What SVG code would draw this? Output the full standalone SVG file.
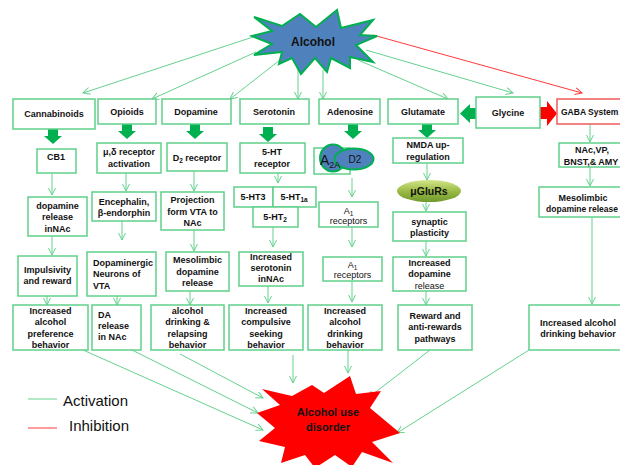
<svg xmlns="http://www.w3.org/2000/svg" width="620" height="465" viewBox="0 0 620 465">
<style>
text{font-family:"Liberation Sans",Arial,sans-serif;font-size:9px;font-weight:bold;fill:#111;text-anchor:middle}
.l{text-anchor:start}
.n{font-weight:normal}
.box{fill:#fff;stroke:#5fd08a;stroke-width:1.5}
.rbox{fill:#fff;stroke:#f05a5a;stroke-width:1.5}
.c{fill:none;stroke:#66d18e;stroke-width:1;marker-end:url(#ag)}
.r{fill:none;stroke:#ff3b3b;stroke-width:1;marker-end:url(#ar)}
.ga{fill:#00b050}
</style>
<defs>
<marker id="ag" markerUnits="userSpaceOnUse" markerWidth="9" markerHeight="9" refX="7" refY="4" orient="auto"><path d="M0,0.5 L7,4 L0,7.5" fill="none" stroke="#66d18e" stroke-width="1"/></marker>
<marker id="ar" markerUnits="userSpaceOnUse" markerWidth="9" markerHeight="9" refX="7" refY="4" orient="auto"><path d="M0,0.5 L7,4 L0,7.5" fill="none" stroke="#ff3b3b" stroke-width="1"/></marker>
<path id="da" d="M-5,0 H5 V7 H9 L0,15 L-9,7 H-5 Z"/>
<linearGradient id="gg" x1="0" y1="0" x2="0" y2="1"><stop offset="0" stop-color="#d3e58a"/><stop offset="0.5" stop-color="#9bbb45"/><stop offset="1" stop-color="#6f9a2c"/></linearGradient>
</defs>

<g id="connectors">
<path class="c" d="M253,37 L83,93"/>
<path class="c" d="M256,52 L152,99"/>
<path class="c" d="M280,60 L230,99"/>
<path class="c" d="M298,65 L298,99"/>
<path class="c" d="M323,70 L323,99"/>
<path class="c" d="M358,60 L448,99"/>
<path class="c" d="M366,50 L513,93"/>
<path class="r" d="M373,35 L582,93"/>
<path class="c" d="M52,174 L52,195"/>
<path class="c" d="M126,173 L126,191"/>
<path class="c" d="M194,171 L194,191"/>
<path class="c" d="M278,173 L278,183"/>
<path class="c" d="M352,178 L352,197"/>
<path class="c" d="M427,163 L427,180"/>
<path class="c" d="M590,124 L590,142"/>
<path class="c" d="M426,202 L426,211"/>
<path class="c" d="M590,167 L590,186"/>
<path class="c" d="M52,236 L52,255"/>
<path class="c" d="M122,221 L122,240"/>
<path class="c" d="M194,230 L194,251"/>
<path class="c" d="M273,227 L273,247"/>
<path class="c" d="M352,227 L352,247"/>
<path class="c" d="M426,241 L426,256"/>
<path class="c" d="M592,217 L592,304"/>
<path class="c" d="M47,296 L47,305"/>
<path class="c" d="M117,296 L117,305"/>
<path class="c" d="M190,291 L190,305"/>
<path class="c" d="M268,286 L268,303"/>
<path class="c" d="M352,281 L352,302"/>
<path class="c" d="M426,291 L426,305"/>
<path class="c" d="M83,350 L263,430"/>
<path class="c" d="M132,350 L258,413"/>
<path class="c" d="M180,354 L263,398"/>
<path class="c" d="M293,355 L293,383"/>
<path class="c" d="M348,350 L348,373"/>
<path class="c" d="M430,350 L368,398"/>
<path class="c" d="M529,350 L397,433"/>
<use href="#da" class="ga" x="53" y="129"/>
<use href="#da" class="ga" x="127" y="124"/>
<use href="#da" class="ga" x="195" y="124"/>
<use href="#da" class="ga" x="268" y="127"/>
<use href="#da" class="ga" x="353" y="124"/>
<use href="#da" class="ga" x="427" y="123"/>
<path class="ga" d="M477,108 H470 V104 L460,113.5 L470,123 V119 H477 Z"/>
<path d="M539,107 H547 V101 L557,113.5 L547,126 V119 H539 Z" fill="#ff0000"/>
</g>

<g id="alcohol">
<polygon points="254,17 282,26 300,14 316,27 337,10 341,28 373,20 360,35 377,36 356,45 373,62 350,57 350,68 331,58 327,72 315,58 301,74 292,58 279,64 282,52 254,55 272,44 252,36 272,31" fill="#4f81bd" stroke="#00b050" stroke-width="2" stroke-linejoin="miter"/>
<text x="313" y="46" style="font-size:12px">Alcohol</text>
</g>

<g id="aud">
<polygon points="262,389 292,396 312,385 324,393 350,376 356,394 381,391 370,408 400,433 372,442 393,463 362,452 352,467 335,455 315,468 305,455 281,463 285,447 259,441 275,428 257,413 280,405" fill="#ff0000"/>
<text x="328" y="416" style="font-size:11px">Alcohol use</text>
<text x="328" y="431" style="font-size:11px">disorder</text>
</g>

<g id="legend">
<line x1="28" y1="399" x2="57" y2="399" stroke="#66d18e" stroke-width="1"/>
<text class="l n" x="63" y="406" style="font-size:15px">Activation</text>
<line x1="28" y1="428" x2="57" y2="428" stroke="#ff3b3b" stroke-width="1"/>
<text class="l n" x="69" y="431" style="font-size:15px">Inhibition</text>
</g>

<g id="cannabinoids"><rect class="box" x="13" y="99" width="82" height="30"/><text x="54" y="117">Cannabinoids</text></g>
<g id="opioids"><rect class="box" x="98" y="99" width="58" height="25"/><text x="127" y="115">Opioids</text></g>
<g id="dopamine"><rect class="box" x="162" y="99" width="69" height="25"/><text x="196" y="115">Dopamine</text></g>
<g id="serotonin"><rect class="box" x="240" y="99" width="69" height="25"/><text x="274" y="115">Serotonin</text></g>
<g id="adenosine"><rect class="box" x="319" y="99" width="61" height="25"/><text x="350" y="115">Adenosine</text></g>
<g id="glutamate"><rect class="box" x="388" y="99" width="70" height="25"/><text x="423" y="115">Glutamate</text></g>
<g id="glycine"><rect class="box" x="476" y="97" width="64" height="31"/><text x="508" y="116">Glycine</text></g>
<g id="gaba"><rect class="rbox" x="557" y="99" width="68" height="25"/><text class="l" x="561" y="115" style="font-size:8.5px">GABA System</text></g>

<g id="cb1"><rect class="box" x="37" y="149" width="39" height="24"/><text x="56" y="160">CB1</text></g>
<g id="mu-delta"><rect class="box" x="97" y="143" width="64" height="30"/><text x="129" y="155">μ,δ receptor</text><text x="129" y="167">activation</text></g>
<g id="d2r"><rect class="box" x="167" y="143" width="60" height="28"/><text x="197" y="161">D<tspan dy="2" style="font-size:6.5px">2</tspan><tspan dy="-2"> receptor</tspan></text></g>
<g id="ht-receptor"><rect class="box" x="240" y="143" width="65" height="30"/><text x="272" y="155">5-HT</text><text x="272" y="167">receptor</text></g>
<g id="a2a-d2">
<rect class="box" x="314" y="148" width="36" height="26"/>
<ellipse cx="333" cy="158" rx="13" ry="13.5" fill="#4f81bd" stroke="#00b050" stroke-width="2"/>
<ellipse cx="354" cy="159" rx="19.5" ry="10.5" fill="#4f81bd" stroke="#00b050" stroke-width="2"/>
<text class="l n" x="320" y="165" style="font-size:14px">A<tspan dy="3" style="font-size:9px">2A</tspan></text>
<text class="n" x="355" y="163" style="font-size:10px">D2</text>
</g>
<g id="nmda"><rect class="box" x="393" y="138" width="70" height="25"/><text x="428" y="148">NMDA up-</text><text x="428" y="160">regulation</text></g>
<g id="nac-vp"><rect class="box" x="559" y="143" width="66" height="24"/><text x="592" y="153">NAc,VP,</text><text x="591" y="165">BNST,&amp; AMY</text></g>

<g id="da-release"><rect class="box" x="28" y="197" width="59" height="39"/><text x="57.5" y="209">dopamine</text><text x="57.5" y="220">release</text><text x="57.5" y="232">inNAc</text></g>
<g id="encephalin"><rect class="box" x="92" y="192" width="64" height="29"/><text x="124" y="205">Encephalin,</text><text x="124" y="216">β-endorphin</text></g>
<g id="projection"><rect class="box" x="161" y="192" width="63" height="38"/><text x="192.5" y="203">Projection</text><text x="192.5" y="215">form VTA to</text><text x="192.5" y="226">NAc</text></g>
<g id="ht3"><rect class="box" x="234" y="187" width="39" height="20"/><text x="253" y="200">5-HT3</text></g>
<g id="ht1a"><rect class="box" x="273" y="187" width="43" height="20"/><text x="294" y="200">5-HT<tspan dy="2" style="font-size:6.5px">1a</tspan></text></g>
<g id="ht2"><rect class="box" x="253" y="207" width="45" height="20"/><text x="275" y="220">5-HT<tspan dy="2" style="font-size:6.5px">2</tspan></text></g>
<g id="mglurs"><ellipse cx="429" cy="191" rx="32" ry="11" fill="url(#gg)"/><text x="429" y="195" style="font-size:10.5px">μGluRs</text></g>
<g id="a1-a"><rect class="box" x="319" y="202" width="59" height="25"/><text class="n" x="348.5" y="214">A<tspan dy="2" style="font-size:6.5px">1</tspan></text><text class="n" x="348.5" y="224">receptors</text></g>
<g id="synaptic"><rect class="box" x="393" y="212" width="73" height="29"/><text x="429.5" y="225">synaptic</text><text x="429.5" y="236">plasticity</text></g>
<g id="gaba-meso"><rect class="box" x="539" y="187" width="86" height="30"/><text x="583" y="201">Mesolimbic</text><text x="582" y="212" style="font-size:8.5px">dopamine release</text></g>

<g id="impulsivity"><rect class="box" x="18" y="256" width="59" height="40"/><text x="47.5" y="273">Impulsivity</text><text x="47.5" y="284">and reward</text></g>
<g id="dopaminergic"><rect class="box" x="87" y="252" width="69" height="44"/><text class="l" x="93" y="266">Dopaminergic</text><text class="l" x="93" y="277">Neurons of</text><text class="l" x="93" y="289">VTA</text></g>
<g id="meso"><rect class="box" x="166" y="252" width="63" height="39"/><text x="197.5" y="263">Mesolimbic</text><text x="197.5" y="275">dopamine</text><text x="197.5" y="286">release</text></g>
<g id="inc-serotonin"><rect class="box" x="239" y="252" width="64" height="34"/><text x="271" y="260">Increased</text><text x="271" y="271">serotonin</text><text x="271" y="282">inNAc</text></g>
<g id="a1-b"><rect class="box" x="323" y="257" width="59" height="24"/><text class="n" x="352.5" y="268">A<tspan dy="2" style="font-size:6.5px">1</tspan></text><text class="n" x="352.5" y="278">receptors</text></g>
<g id="inc-dopamine"><rect class="box" x="393" y="257" width="73" height="34"/><text x="429.5" y="266">Increased</text><text x="429.5" y="277">dopamine</text><text class="n" x="429.5" y="289">release</text></g>

<g id="pref"><rect class="box" x="13" y="305" width="75" height="45"/><text x="50.5" y="314">Increased</text><text x="50.5" y="325">alcohol</text><text x="50.5" y="337">preference</text><text x="50.5" y="348">behavior</text></g>
<g id="da-nac"><rect class="box" x="92" y="305" width="49" height="45"/><text class="l" x="98" y="318">DA</text><text class="l" x="98" y="329">release</text><text class="l" x="98" y="340">in NAc</text></g>
<g id="relapsing"><rect class="box" x="151" y="305" width="73" height="45"/><text x="187.5" y="314">alcohol</text><text x="187.5" y="325">drinking &amp;</text><text x="187.5" y="337">relapsing</text><text x="187.5" y="348">behavior</text></g>
<g id="compulsive"><rect class="box" x="229" y="305" width="74" height="45"/><text x="266" y="314">Increased</text><text x="266" y="325">compulsive</text><text x="266" y="337">seeking</text><text x="266" y="348">behavior</text></g>
<g id="adeno-drink"><rect class="box" x="308" y="305" width="74" height="45"/><text x="345" y="314">Increased</text><text x="345" y="325">alcohol</text><text x="345" y="337">drinking</text><text x="345" y="348">behavior</text></g>
<g id="reward"><rect class="box" x="398" y="305" width="74" height="45"/><text x="435" y="319">Reward and</text><text x="435" y="330">anti-rewards</text><text x="435" y="342">pathways</text></g>
<g id="gaba-drink"><rect class="box" x="529" y="305" width="96" height="45"/><text x="578" y="326">Increased alcohol</text><text x="578" y="337">drinking behavior</text></g>
</svg>
